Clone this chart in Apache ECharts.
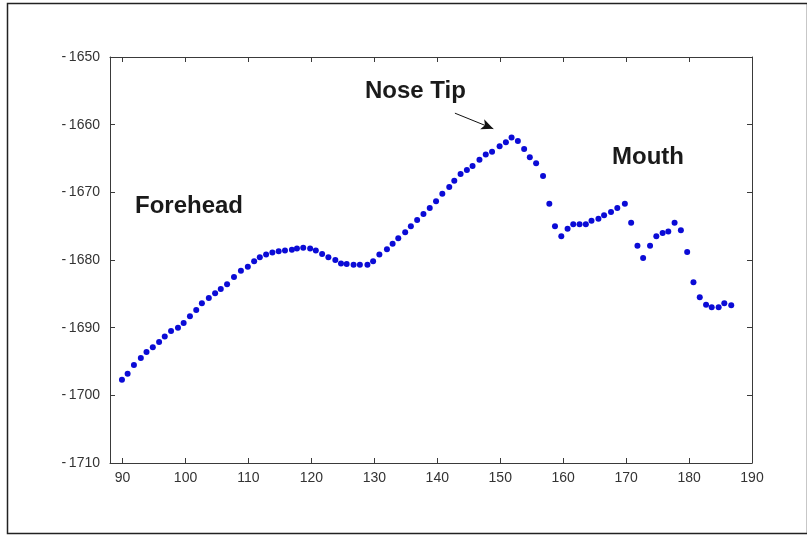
<!DOCTYPE html>
<html>
<head>
<meta charset="utf-8">
<script src="https://cdn.jsdelivr.net/npm/echarts@6/dist/echarts.min.js"></script>
<style>
  html, body { margin: 0; padding: 0; background: #ffffff; }
  #chart { width: 807px; height: 536px; }
</style>
</head>
<body>
<div id="chart"></div>
<script>
// Facial profile depth samples (horizontal position vs. depth)
const profileX = [
  89.9, 90.8, 91.8, 92.9, 93.8, 94.8, 95.8, 96.7, 97.7, 98.8,
  99.7, 100.7, 101.7, 102.6, 103.7, 104.7, 105.6, 106.6, 107.7, 108.8,
  109.9, 110.9, 111.8, 112.8, 113.8, 114.8, 115.8, 116.9, 117.7, 118.7,
  119.8, 120.7, 121.7, 122.7, 123.8, 124.7, 125.6, 126.7, 127.7, 128.9,
  129.8, 130.8, 132.0, 132.9, 133.8, 134.9, 135.8, 136.8, 137.8, 138.8,
  139.8, 140.8, 141.9, 142.7, 143.7, 144.7, 145.6, 146.7, 147.7, 148.7,
  149.9, 150.9, 151.8, 152.8, 153.8, 154.7, 155.7, 156.8, 157.8, 158.7,
  159.7, 160.7, 161.6, 162.6, 163.6, 164.5, 165.6, 166.5, 167.6, 168.6,
  169.8, 170.8, 171.8, 172.7, 173.8, 174.8, 175.8, 176.7, 177.7, 178.7,
  179.7, 180.7, 181.7, 182.7, 183.6, 184.7, 185.6, 186.7
];
const profileY = [
  -1697.7, -1696.8, -1695.5, -1694.5, -1693.6, -1692.9, -1692.1, -1691.3, -1690.5, -1690.0,
  -1689.3, -1688.3, -1687.4, -1686.4, -1685.6, -1684.9, -1684.3, -1683.6, -1682.5, -1681.6,
  -1681.0, -1680.2, -1679.6, -1679.2, -1678.9, -1678.7, -1678.6, -1678.5, -1678.3, -1678.2,
  -1678.3, -1678.6, -1679.1, -1679.6, -1680.0, -1680.5, -1680.6, -1680.7, -1680.7, -1680.7,
  -1680.2, -1679.2, -1678.4, -1677.6, -1676.8, -1675.9, -1675.0, -1674.1, -1673.2, -1672.3,
  -1671.3, -1670.2, -1669.2, -1668.3, -1667.3, -1666.7, -1666.1, -1665.2, -1664.4, -1664.0,
  -1663.2, -1662.6, -1661.9, -1662.4, -1663.6, -1664.8, -1665.7, -1667.6, -1671.7, -1675.0,
  -1676.5, -1675.4, -1674.7, -1674.7, -1674.7, -1674.2, -1673.9, -1673.4, -1672.9, -1672.3,
  -1671.7, -1674.5, -1677.9, -1679.7, -1677.9, -1676.5, -1676.0, -1675.8, -1674.5, -1675.6,
  -1678.8, -1683.3, -1685.5, -1686.6, -1687.0, -1687.0, -1686.4, -1686.7
];

// Axis ticks
const xTicks = [90, 100, 110, 120, 130, 140, 150, 160, 170, 180, 190];
const yTicks = [-1710, -1700, -1690, -1680, -1670, -1660, -1650];

// Region labels
const regionNames = ['Forehead', 'Nose Tip', 'Mouth'];

const points = profileX.map((x, i) => [x, profileY[i]]);

const axisColor = '#3a3a3a';
const labelFont = { fontFamily: 'Liberation Sans, Arial, sans-serif', fontSize: 14, color: '#333' };

// Plain tick numbers, negative values with a slightly spaced minus sign
function formatTick(v) {
  return v < 0 ? '-\u2009' + Math.abs(v) : String(v);
}

function xAxisDef(position, showLabels) {
  return {
    type: 'value', position: position, min: 88, max: 190,
    axisLine: { show: true, onZero: false, lineStyle: { color: axisColor, width: 1 } },
    axisTick: { show: true, inside: true, length: 5, customValues: xTicks, lineStyle: { color: axisColor } },
    axisLabel: Object.assign({ show: showLabels, margin: 8, customValues: xTicks, formatter: formatTick }, labelFont),
    splitLine: { show: false }
  };
}
function yAxisDef(position, showLabels) {
  return {
    type: 'value', position: position, min: yTicks[0], max: yTicks[yTicks.length - 1], interval: 10,
    axisLine: { show: true, onZero: false, lineStyle: { color: axisColor, width: 1 } },
    axisTick: { show: true, inside: true, length: 5, lineStyle: { color: axisColor } },
    axisLabel: Object.assign({ show: showLabels, margin: 10, formatter: formatTick }, labelFont),
    splitLine: { show: false }
  };
}

const chart = echarts.init(document.getElementById('chart'), null, { renderer: 'canvas' });
const labelStyle = { fontFamily: 'Liberation Sans, Arial, sans-serif', fontSize: 24, fontWeight: 'bold', fill: '#1a1a1a' };

chart.setOption({
  backgroundColor: '#ffffff',
  animation: false,
  grid: { left: 110, right: 55, top: 57, bottom: 73 },
  xAxis: [xAxisDef('bottom', true), xAxisDef('top', false)],
  yAxis: [yAxisDef('left', true), yAxisDef('right', false)],
  series: [{
    type: 'scatter',
    xAxisIndex: 0, yAxisIndex: 0,
    data: points,
    symbol: 'circle',
    symbolSize: 6,
    itemStyle: { color: '#0b0bd6', opacity: 1 },
    markLine: {
      silent: true,
      symbol: ['none', 'arrow'],
      symbolSize: [8, 12],
      label: { show: false },
      lineStyle: { color: '#111', width: 1, type: 'solid' },
      data: [[{ coord: [142.8, -1658.3] }, { coord: [148.9, -1660.6] }]]
    }
  }],
  graphic: [
    { type: 'rect', left: 5, top: 1, shape: { width: 800, height: 530 }, style: { fill: 'none', stroke: '#222', lineWidth: 1.5 }, silent: true },
    { type: 'text', left: 135, top: 194, style: Object.assign({ text: regionNames[0] }, labelStyle) },
    { type: 'text', left: 365, top: 79, style: Object.assign({ text: regionNames[1] }, labelStyle) },
    { type: 'text', left: 612, top: 145, style: Object.assign({ text: regionNames[2] }, labelStyle) }
  ]
});
</script>
</body>
</html>
